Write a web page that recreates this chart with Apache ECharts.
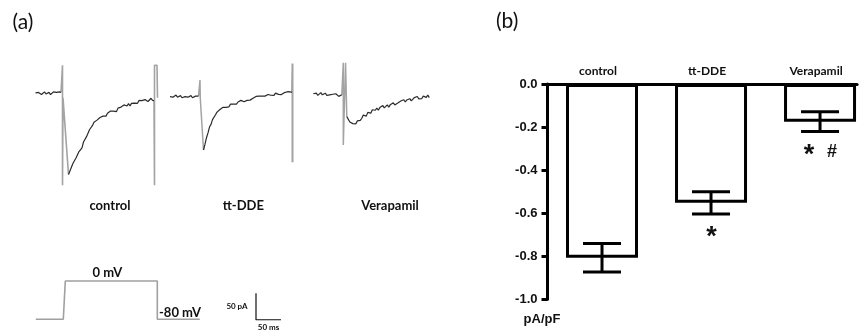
<!DOCTYPE html>
<html><head><meta charset="utf-8">
<script src="https://cdn.jsdelivr.net/npm/echarts@6/dist/echarts.min.js"></script>
<style>html,body{margin:0;padding:0;background:#fff}#c{width:859px;height:333px}</style>
</head><body><div id="c"></div>
<script>
// ---- Panel (a): current traces, [time ms, current pA] ----
const controlBaseline = [[-54,1],[-51,-1],[-48,2],[-45,0],[-42,-2],[-39,1],[-36,3],[-33,-1],[-30,0],[-27,2],[-24,-2],[-21,1],[-18,3],[-15,0],[-12,2],[-9,-1],[-6,3],[-3,2]];
const controlDecay = [[12,-152],[15,-145],[18,-142],[21,-131],[24,-130],[27,-121],[30,-119],[33,-109],[36,-106],[39,-102],[42,-91],[45,-89],[48,-81],[51,-79],[54,-68],[57,-66],[60,-60],[63,-54],[66,-56],[69,-50],[72,-50],[75,-45],[78,-48],[81,-42.5],[84,-42],[87,-42.5],[90,-37],[93,-38.5],[96,-33],[99,-36.5],[102,-33],[105,-31],[108,-34],[111,-27.5],[114,-29],[117,-25.5],[120,-27],[123,-21.5],[126,-23.5],[129,-23.5],[132,-19],[135,-23.5],[138,-18.5],[141,-20],[144,-18],[147,-15.5],[150,-18.5],[153,-13],[156,-16],[159,-13.5],[162,-17],[165,-11.5],[168,-13],[171,-15],[174,-11.5],[177,-9],[180,-13],[183,-13.5]];
const controlOnTransient = [[-3,2],[0,53],[0,-172],[1,-8],[12,-152]];
const controlOffTransient = [[183,-13.5],[184,-172],[184,53],[189,53],[190,-8]];

const ttBaseline = [[-60,0],[-57,2],[-54,-1],[-51,1],[-48,3],[-45,-1],[-42,0],[-39,2],[-36,-2],[-33,1],[-30,0],[-27,3],[-24,-1],[-21,1],[-18,2],[-15,-2],[-12,0],[-9,1],[-6,-1],[-3,1]];
const ttDecay = [[7,-100],[10,-89],[13,-77],[16,-68],[19,-57],[22,-52],[25,-43],[28,-41],[31,-34],[34,-29],[37,-29],[40,-24],[43,-25.5],[46,-20],[49,-20.5],[52,-20],[55,-17],[58,-19],[61,-14],[64,-15.5],[67,-14],[70,-11],[73,-14],[76,-10],[79,-11],[82,-7],[85,-8.3],[88,-9.5],[91,-5.8],[94,-7],[97,-3.3],[100,-6.5],[103,-2.8],[106,-3],[109,-3.3],[112,0.5],[115,-1.8],[118,1],[121,-1.5],[124,1],[127,3.5],[130,1],[133,0.5],[136,4],[139,5.3],[142,2.7],[145,4],[148,2.3],[151,6.7],[154,6],[157,4.3],[160,7.7],[163,4],[166,6.3],[169,7.7],[172,6],[175,9.3],[178,6.6],[181,8.8],[184,8]];
const ttOnTransient = [[-3,1],[0,31],[0.5,-2],[7,-100]];
const ttOffTransient = [[184,8],[185,62],[185,-123]];

const veraBaseline = [[-60,1],[-57,-1],[-54,2],[-51,-2],[-48,1],[-45,3],[-42,-1],[-39,0],[-36,2],[-33,-2],[-30,1],[-27,-1],[-24,2],[-21,0],[-18,-2],[-15,1],[-12,-1],[-9,-4],[-6,-5],[-3,-1]];
const veraDecay = [[7,-42],[10,-45],[13,-52],[16,-49],[19,-55],[22,-51.5],[25,-55.5],[28,-50],[31,-47],[34,-49],[37,-45],[40,-39],[43,-41],[46,-41],[49,-34],[52,-34],[55,-35.5],[58,-29],[61,-30.5],[64,-30],[67,-26],[70,-30],[73,-25],[76,-26],[79,-21.2],[82,-25.5],[85,-22.8],[88,-20],[91,-24.2],[94,-19.5],[97,-20.7],[100,-16],[103,-20],[106,-16.3],[109,-16.5],[112,-18.5],[115,-12.7],[118,-15],[121,-10.2],[124,-14.5],[127,-10.7],[130,-12],[133,-8.3],[136,-12.5],[139,-8.8],[142,-6.2],[145,-8.7],[148,-4.2],[151,-8.7],[154,-5.3],[157,-8],[160,-3.5],[163,-5.2],[166,-5.8],[169,-1.5],[172,-6.2]];
const veraOnTransient = [[-3,-1],[0,59],[0,-95],[4.5,59],[5.5,59],[7,-42]];

// voltage protocol [ms, mV]
const protocol = [[-55,-80],[0,-80],[4,0],[188,0],[188,-80],[273,-80]];
// scale bar [ms, pA]
const scaleBar = [[0,50],[0,0],[50,0]];

// ---- Panel (b) ----
const groups = ['control','tt-DDE','Verapamil'];
const meanValues = [-0.807, -0.552, -0.175];
const seValues = [0.066, 0.052, 0.046];
const sigMarks = [[], ['*'], ['*','#']];
const yTicks = {min:-1.0, max:0.0, interval:0.2};

const chart = echarts.init(document.getElementById('c'), null, {renderer:'canvas'});

const grids = [
  {left:32.5, top:50.8, width:130, height:149.33},
  {left:170, top:54.0, width:130, height:149.33},
  {left:313.3, top:51.6, width:130, height:149.33},
  {left:33.3, top:271.4, width:170, height:57.5},
  {left:256, top:293.3, width:25, height:26.67},
  {left:547.5, top:84, width:309.6, height:215.3}
];
const xAxes = [], yAxes = [];
for (let i=0;i<3;i++){
  xAxes.push({type:'value', gridIndex:i, min:-60, max:200, show:false});
  yAxes.push({type:'value', gridIndex:i, min:-200, max:80, show:false});
}
xAxes.push({type:'value', gridIndex:3, min:-60, max:280, show:false});
yAxes.push({type:'value', gridIndex:3, min:-100, max:20, show:false});
xAxes.push({type:'value', gridIndex:4, min:0, max:50, show:false});
yAxes.push({type:'value', gridIndex:4, min:0, max:50, show:false});
xAxes.push({type:'value', gridIndex:5, min:-0.5, max:2.34,
  axisLine:{show:true, onZero:true, lineStyle:{color:'#000', width:3}},
  axisTick:{show:false}, axisLabel:{show:false}, splitLine:{show:false}});
yAxes.push({type:'value', gridIndex:5, min:yTicks.min, max:yTicks.max, interval:yTicks.interval,
  axisLine:{show:true, onZero:false, lineStyle:{color:'#000', width:3}},
  axisTick:{show:true, length:6, lineStyle:{color:'#000', width:3}},
  splitLine:{show:false},
  axisLabel:{fontFamily:'Liberation Sans', fontWeight:'bold', fontSize:13, color:'#111', margin:10,
    formatter:v=>v.toFixed(1)}});

function ln(data, gi, color, w){
  return {type:'line', xAxisIndex:gi, yAxisIndex:gi, data:data, showSymbol:false, symbol:'none',
    lineStyle:{color:color, width:w}, silent:true, animation:false};
}
const GRAY = '#a3a3a3', DARK = '#2b2b2b';
const series = [
  ln(controlOnTransient,0,GRAY,1.6), ln(controlOffTransient,0,GRAY,1.6),
  ln(controlBaseline,0,DARK,1.2), ln(controlDecay,0,DARK,1.2),
  ln(ttOnTransient,1,GRAY,1.5), ln(ttOffTransient,1,GRAY,2),
  ln(ttBaseline,1,DARK,1.2), ln(ttDecay,1,DARK,1.2),
  ln(veraOnTransient,2,GRAY,1.5),
  ln(veraBaseline,2,DARK,1.2), ln(veraDecay,2,DARK,1.2),
  ln(protocol,3,'#a0a0a0',1.6),
  ln(scaleBar,4,'#111',1.2),
  {type:'bar', xAxisIndex:5, yAxisIndex:5, data:meanValues.map((v,i)=>[i,v]), barWidth:72, animation:false,
    itemStyle:{color:'#fff', borderColor:'#000', borderWidth:3}},
  {type:'custom', xAxisIndex:5, yAxisIndex:5, animation:false, z:10,
    data: groups.map((g,i)=>[i, meanValues[i], seValues[i]]),
    encode:{x:0, y:1},
    renderItem:function(params, api){
      const i = api.value(0), m = api.value(1), s = api.value(2);
      const top = api.coord([i, m + s]), bot = api.coord([i, m - s]), base = api.coord([i, 0]);
      const x = top[0], hw = 19;
      const st = {stroke:'#000', lineWidth:3};
      const ch = [
        {type:'line', shape:{x1:x, y1:top[1], x2:x, y2:bot[1]}, style:st},
        {type:'line', shape:{x1:x-hw, y1:top[1], x2:x+hw, y2:top[1]}, style:st},
        {type:'line', shape:{x1:x-hw, y1:bot[1], x2:x+hw, y2:bot[1]}, style:st},
        {type:'text', style:{text:groups[i], x:x-4, y:base[1]-13, fontFamily:'Lato', fontWeight:'bold',
          fontSize:12, fill:'#111', align:'center', verticalAlign:'middle', textAlign:'center', textVerticalAlign:'middle'}}
      ];
      const marks = sigMarks[i];
      marks.forEach((mk,k)=>{
        const dx = (k - (marks.length-1)/2)*23 + 0.5;
        const isStar = mk === '*';
        ch.push({type:'text', style:{text:mk, x:x+dx, y:bot[1] + (isStar?24:20),
          fontFamily:'Liberation Sans', fontWeight:'bold', fontSize:isStar?27:18, fill:'#111',
          align:'center', verticalAlign:'middle', textAlign:'center', textVerticalAlign:'middle'}});
      });
      return {type:'group', children:ch};
    }}
];

function T(text, x, y, size, opts){
  opts = opts || {};
  return {type:'text', x:x, y:y, silent:true, style:{text:text, fontSize:size,
    fontFamily:opts.family||'Lato', fontWeight:opts.weight||'bold', fill:'#111',
    align:opts.align||'center', textAlign:opts.align||'center',
    verticalAlign:'middle', textVerticalAlign:'middle'}};
}
const graphics = [
  T('(a)', 12.5, 22.5, 21, {weight:'normal', align:'left'}),
  T('(b)', 496, 21, 21, {weight:'normal', align:'left'}),
  T('control', 110, 206, 13),
  T('tt-DDE', 243.3, 206, 13),
  T('Verapamil', 390, 206, 13),
  T('0 mV', 107.3, 272.5, 13),
  T('-80 mV', 159, 313.3, 13, {align:'left'}),
  T('50 pA', 237, 306.5, 8),
  T('50 ms', 268.5, 327.5, 8),
  T('pA/pF', 542, 319.5, 13, {family:'Liberation Sans'})
];

chart.setOption({
  animation:false,
  backgroundColor:'#fff',
  grid:grids, xAxis:xAxes, yAxis:yAxes, series:series, graphic:graphics
});
</script></body></html>
